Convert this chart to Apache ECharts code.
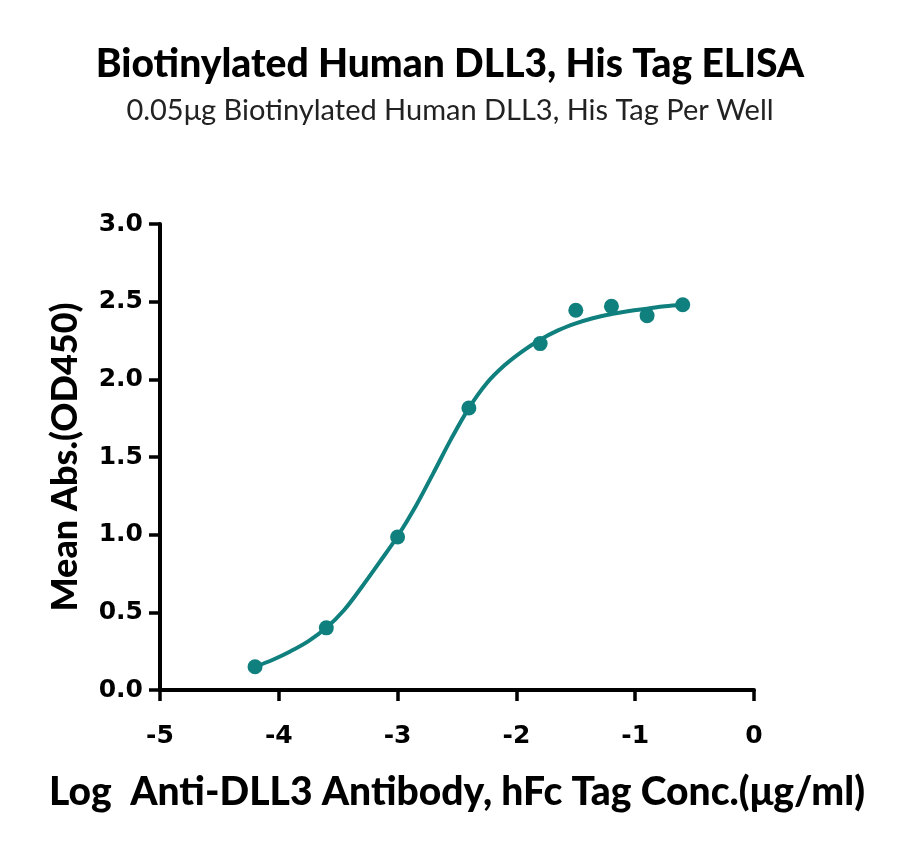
<!DOCTYPE html>
<html>
<head>
<meta charset="utf-8">
<script src="https://cdn.jsdelivr.net/npm/echarts@6/dist/echarts.min.js"></script>
<style>
  html, body { margin: 0; padding: 0; background: #fff; }
  #chart { width: 900px; height: 844px; }
</style>
</head>
<body>
<div id="chart"></div>
<script>
// measured points
var logConc = [-4.2, -3.6, -3.0, -2.4, -1.8, -1.5, -1.2, -0.9, -0.6];
var meanAbs = [0.15, 0.40, 0.985, 1.815, 2.23, 2.445, 2.47, 2.41, 2.48];

// fitted curve
var curveX = [-4.2, -4.05, -3.9, -3.75, -3.6, -3.45, -3.3, -3.15, -3.0, -2.85, -2.7, -2.55, -2.4,
              -2.25, -2.1, -1.95, -1.8, -1.65, -1.5, -1.35, -1.2, -1.05, -0.9, -0.75, -0.6];
var curveY = [0.15, 0.195, 0.25, 0.315, 0.40, 0.515, 0.665, 0.825, 0.99, 1.18, 1.395, 1.615, 1.815,
              1.975, 2.09, 2.18, 2.255, 2.315, 2.36, 2.395, 2.42, 2.44, 2.455, 2.47, 2.48];

var xTicks = [-5, -4, -3, -2, -1, 0];
var yTicks = [0.0, 0.5, 1.0, 1.5, 2.0, 2.5, 3.0];

initChart();
function initChart(){
    var dom = document.getElementById('chart');
    var myChart = echarts.init(dom, null, { renderer: 'canvas' });
    var teal = '#10807f';
    var font = 'Lato';
    var tickFont = 'DejaVu Sans';

    var points = logConc.map(function (x, i) { return [x, meanAbs[i]]; });
    var curve = curveX.map(function (x, i) { return [x, curveY[i]]; });

    var option = {
        animation: false,
        title: [
          {
            text: 'Biotinylated Human DLL3, His Tag ELISA',
            left: 'center',
            top: 40,
            textStyle: { fontFamily: font, fontWeight: 900, fontSize: 39, color: '#000' }
          },
          {
            text: '0.05\u03bcg Biotinylated Human DLL3, His Tag Per Well',
            left: 'center',
            top: 91,
            textStyle: { fontFamily: font, fontWeight: 'normal', fontSize: 29, color: '#222' }
          }
        ],
        grid: { left: 160, right: 146, top: 224, bottom: 154 },
        xAxis: {
          type: 'value',
          min: xTicks[0],
          max: xTicks[xTicks.length - 1],
          interval: 1,
          splitLine: { show: false },
          axisLine: { onZero: false, lineStyle: { color: '#000', width: 4 } },
          axisTick: { length: 11, lineStyle: { color: '#000', width: 3.5 } },
          axisLabel: { margin: 34, color: '#000', fontFamily: tickFont, fontWeight: 'bold', fontSize: 25 },
          name: 'Log  Anti-DLL3 Antibody, hFc Tag Conc.(\u03bcg/ml)',
          nameLocation: 'middle',
          nameGap: 83,
          nameTextStyle: { color: '#000', fontFamily: font, fontWeight: 900, fontSize: 39 }
        },
        yAxis: {
          type: 'value',
          min: yTicks[0],
          max: yTicks[yTicks.length - 1],
          interval: 0.5,
          splitLine: { show: false },
          axisLine: { show: true, onZero: false, lineStyle: { color: '#000', width: 4 } },
          axisTick: { show: true, length: 11, lineStyle: { color: '#000', width: 3.5 } },
          axisLabel: {
            margin: 17, color: '#000', fontFamily: tickFont, fontWeight: 'bold', fontSize: 25,
            formatter: function (v) { return v.toFixed(1); }
          },
          name: 'Mean Abs.(OD450)',
          nameLocation: 'middle',
          nameGap: 77,
          nameTextStyle: { color: '#000', fontFamily: font, fontWeight: 900, fontSize: 36 }
        },
        series: [
          {
            type: 'line',
            data: curve,
            smooth: 0.35,
            showSymbol: false,
            lineStyle: { color: teal, width: 4 },
            z: 2
          },
          {
            type: 'scatter',
            data: points,
            symbolSize: 15,
            itemStyle: { color: teal, opacity: 1 },
            z: 3
          }
        ]
    };

    myChart.setOption(option);
    window.addEventListener('resize', myChart.resize);
}
</script>
</body>
</html>
